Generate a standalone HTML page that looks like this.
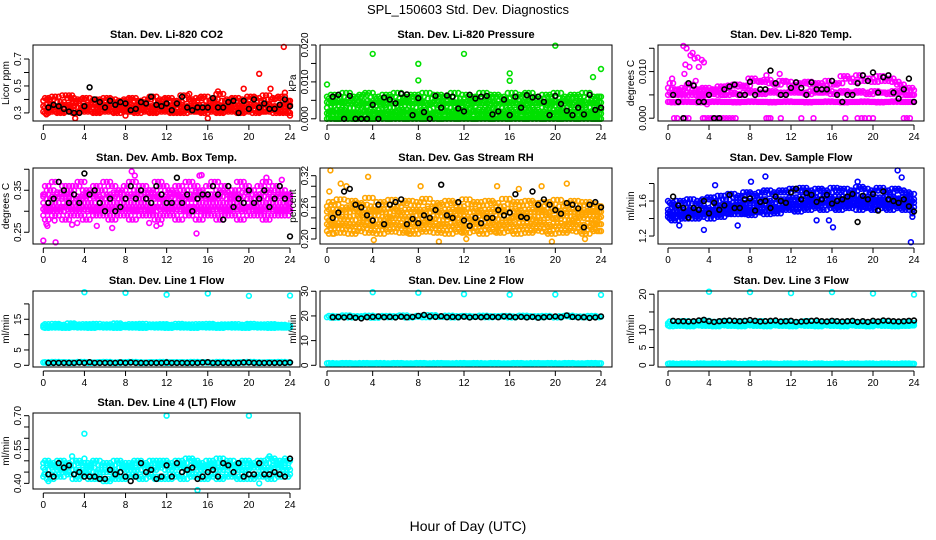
<!DOCTYPE html>
<html><head><meta charset="utf-8"><style>
html,body{margin:0;padding:0;background:#fff}
svg{display:block;font-family:"Liberation Sans",Arial,sans-serif}
</style></head><body>
<svg id="fig" width="936" height="540" viewBox="0 0 936 540">
<text x="468" y="14" text-anchor="middle" font-size="13">SPL_150603  Std. Dev. Diagnostics</text>
<text x="468" y="531" text-anchor="middle" font-size="14">Hour of Day (UTC)</text>
</svg>
<script>
// ---- data ----
const co2Lo=[0.31,0.30,0.32,0.31,0.30,0.31,0.32,0.30,0.31,0.32,0.31,0.30,0.31,0.32,0.31,0.30,0.32,0.31,0.31,0.30,0.32,0.31,0.30,0.31,0.32,0.31,0.30,0.31,0.30,0.32,0.31,0.31,0.30,0.32,0.31,0.30,0.31,0.32,0.31,0.30,0.31,0.32,0.30,0.31,0.31,0.32,0.30,0.31,0.30];
const co2Mid=[0.35,0.34,0.36,0.35,0.34,0.36,0.35,0.37,0.34,0.35,0.36,0.34,0.35,0.36,0.35,0.34,0.35,0.36,0.35,0.34,0.36,0.35,0.34,0.35,0.36,0.35,0.34,0.36,0.35,0.34,0.35,0.36,0.34,0.35,0.36,0.35,0.34,0.36,0.35,0.34,0.35,0.36,0.35,0.34,0.36,0.35,0.34,0.35,0.36];
const co2Hi=[0.39,0.41,0.40,0.42,0.38,0.43,0.41,0.39,0.40,0.41,0.38,0.40,0.39,0.41,0.40,0.38,0.39,0.40,0.41,0.39,0.38,0.40,0.42,0.39,0.40,0.41,0.39,0.38,0.43,0.40,0.39,0.41,0.42,0.39,0.40,0.44,0.39,0.40,0.41,0.39,0.40,0.42,0.41,0.39,0.43,0.40,0.41,0.42,0.39];
const co2OutH=[3.1,16,8,21,23.4,19.5,22.1,14.2,23.5,2.8,0.3,24,17];
const co2OutV=[0.26,0.26,0.28,0.59,0.79,0.48,0.48,0.44,0.45,0.43,0.29,0.28,0.46];
const co2Black=[0.34,0.36,0.35,0.33,0.31,0.30,0.30,0.35,0.49,0.40,0.38,0.34,0.39,0.36,0.38,0.37,0.32,0.33,0.38,0.37,0.42,0.36,0.35,0.37,0.32,0.37,0.42,0.34,0.32,0.34,0.34,0.34,0.41,0.34,0.34,0.38,0.39,0.30,0.39,0.33,0.40,0.34,0.37,0.33,0.33,0.36,0.40,0.35];

const prsLo=[0.0000,0.0001,0.0000,0.0000,0.0001,0.0000,0.0000,0.0001,0.0000,0.0000,0.0001,0.0000,0.0000,0.0001,0.0000,0.0000,0.0001,0.0000,0.0000,0.0001,0.0000,0.0000,0.0001,0.0000,0.0000,0.0001,0.0000,0.0000,0.0001,0.0000,0.0000,0.0001,0.0000,0.0000,0.0001,0.0000,0.0000,0.0001,0.0000,0.0000,0.0001,0.0000,0.0000,0.0001,0.0000,0.0000,0.0001,0.0000,0.0000];
const prsQ1=[0.0015,0.0012,0.0018,0.0014,0.0016,0.0010,0.0015,0.0018,0.0012,0.0014,0.0017,0.0015,0.0011,0.0016,0.0014,0.0018,0.0012,0.0015,0.0013,0.0010,0.0016,0.0018,0.0012,0.0015,0.0014,0.0016,0.0018,0.0012,0.0013,0.0016,0.0018,0.0011,0.0015,0.0013,0.0012,0.0018,0.0016,0.0014,0.0012,0.0015,0.0017,0.0013,0.0016,0.0011,0.0014,0.0018,0.0015,0.0012,0.0014];
const prsMid=[0.0030,0.0020,0.0035,0.0025,0.0030,0.0015,0.0030,0.0035,0.0020,0.0025,0.0035,0.0030,0.0020,0.0030,0.0025,0.0035,0.0020,0.0030,0.0025,0.0015,0.0030,0.0035,0.0020,0.0030,0.0025,0.0030,0.0035,0.0020,0.0025,0.0030,0.0035,0.0020,0.0030,0.0025,0.0020,0.0035,0.0030,0.0025,0.0020,0.0030,0.0035,0.0025,0.0030,0.0020,0.0025,0.0035,0.0030,0.0020,0.0025];
const prsQ3=[0.0045,0.0042,0.0048,0.0044,0.0046,0.0040,0.0045,0.0048,0.0042,0.0044,0.0047,0.0045,0.0041,0.0046,0.0044,0.0048,0.0042,0.0045,0.0043,0.0040,0.0046,0.0048,0.0042,0.0045,0.0044,0.0046,0.0048,0.0042,0.0043,0.0046,0.0048,0.0041,0.0045,0.0043,0.0042,0.0048,0.0046,0.0044,0.0042,0.0045,0.0047,0.0043,0.0046,0.0041,0.0044,0.0048,0.0045,0.0042,0.0044];
const prsHi=[0.0060,0.0055,0.0065,0.0060,0.0070,0.0055,0.0060,0.0065,0.0070,0.0060,0.0055,0.0065,0.0060,0.0070,0.0055,0.0060,0.0065,0.0060,0.0070,0.0055,0.0065,0.0060,0.0060,0.0070,0.0055,0.0065,0.0060,0.0055,0.0070,0.0060,0.0065,0.0060,0.0055,0.0070,0.0060,0.0065,0.0070,0.0060,0.0055,0.0065,0.0060,0.0070,0.0055,0.0060,0.0065,0.0060,0.0070,0.0055,0.0060];
const prsOutH=[0,4,8,8,12,16,16,20,23.3,24];
const prsOutV=[0.0093,0.0176,0.0149,0.0104,0.0176,0.0123,0.0103,0.0198,0.0113,0.0135];
const prsBlack=[0.0060,0.0065,0.0000,0.0062,0.0000,0.0000,0.0000,0.0038,0.0000,0.0058,0.0052,0.0042,0.0068,0.0066,0.0010,0.0056,0.0018,0.0000,0.0062,0.0030,0.0063,0.0060,0.0028,0.0020,0.0065,0.0055,0.0060,0.0062,0.0012,0.0020,0.0052,0.0010,0.0060,0.0030,0.0064,0.0058,0.0060,0.0046,0.0010,0.0062,0.0040,0.0022,0.0010,0.0030,0.0012,0.0065,0.0024,0.0030];

const tmpLo=[0.0035,0.0035,0.0034,0.0035,0.0036,0.0035,0.0035,0.0034,0.0035,0.0035,0.0036,0.0035,0.0035,0.0035,0.0034,0.0035,0.0035,0.0036,0.0035,0.0035,0.0035,0.0034,0.0035,0.0035,0.0036,0.0035,0.0035,0.0035,0.0034,0.0035,0.0035,0.0035,0.0036,0.0035,0.0035,0.0034,0.0035,0.0035,0.0035,0.0036,0.0035,0.0035,0.0034,0.0035,0.0035,0.0036,0.0035,0.0035,0.0035];
const tmpMid=[0.0050,0.0055,0.0050,0.0052,0.0050,0.0055,0.0050,0.0048,0.0050,0.0052,0.0055,0.0050,0.0050,0.0055,0.0052,0.0050,0.0055,0.0058,0.0055,0.0052,0.0055,0.0058,0.0055,0.0052,0.0055,0.0058,0.0055,0.0055,0.0052,0.0058,0.0055,0.0055,0.0058,0.0052,0.0055,0.0058,0.0055,0.0055,0.0058,0.0055,0.0052,0.0058,0.0055,0.0055,0.0052,0.0058,0.0055,0.0050,0.0050];
const tmpHi=[0.0065,0.0075,0.0062,0.0060,0.0065,0.0072,0.0060,0.0062,0.0065,0.0060,0.0062,0.0068,0.0065,0.0070,0.0072,0.0068,0.0070,0.0085,0.0080,0.0078,0.0082,0.0075,0.0072,0.0080,0.0078,0.0070,0.0072,0.0075,0.0078,0.0072,0.0075,0.0070,0.0080,0.0072,0.0075,0.0090,0.0085,0.0078,0.0092,0.0080,0.0085,0.0078,0.0090,0.0080,0.0085,0.0078,0.0072,0.0065,0.0060];
const tmpOutH=[1.5,1.8,1.7,2.2,2.4,2.6,2.9,3.0,3.3,3.5,2.1,1.6,2.7,0.4,3.8,10.9,9.6];
const tmpOutV=[0.0155,0.0150,0.0115,0.0135,0.0140,0.0128,0.0130,0.0110,0.0125,0.0120,0.0110,0.0095,0.0080,0.0085,0.0030,0.0095,0.0092];
const tmpZeroH=[0.6,0.9,1.5,1.7,2.0,3.4,3.6,3.9,4.2,4.5,4.8,5.1,5.4,5.7,6.0,6.3,6.6,9.6,9.8,10.0,11.0,13.0,14.2,17.3,18.5,18.9,19.2,19.6,20.0,23.0,23.3,23.6];
const tmpBlack=[0.0050,0.0035,0.0000,0.0075,0.0070,0.0035,0.0035,0.0050,0.0000,0.0000,0.0062,0.0068,0.0072,0.0050,0.0050,0.0078,0.0050,0.0062,0.0062,0.0102,0.0075,0.0050,0.0050,0.0065,0.0077,0.0065,0.0050,0.0077,0.0062,0.0062,0.0062,0.0080,0.0050,0.0035,0.0050,0.0050,0.0075,0.0092,0.0080,0.0098,0.0055,0.0088,0.0092,0.0055,0.0042,0.0062,0.0085,0.0035];

const ambLo=[0.29,0.28,0.30,0.29,0.30,0.28,0.29,0.30,0.29,0.28,0.30,0.29,0.30,0.29,0.28,0.29,0.30,0.29,0.28,0.30,0.29,0.30,0.29,0.28,0.29,0.30,0.29,0.28,0.30,0.29,0.30,0.28,0.29,0.30,0.29,0.28,0.29,0.30,0.29,0.28,0.30,0.29,0.30,0.29,0.28,0.29,0.30,0.29,0.30];
const ambQ1=[0.305,0.300,0.310,0.305,0.300,0.310,0.305,0.300,0.305,0.310,0.305,0.300,0.310,0.305,0.300,0.305,0.310,0.305,0.300,0.305,0.310,0.305,0.300,0.310,0.305,0.300,0.305,0.310,0.305,0.300,0.310,0.305,0.300,0.305,0.310,0.305,0.300,0.305,0.310,0.305,0.300,0.310,0.305,0.300,0.305,0.310,0.305,0.300,0.305];
const ambMid=[0.32,0.31,0.33,0.32,0.31,0.33,0.32,0.31,0.32,0.33,0.32,0.31,0.33,0.32,0.31,0.32,0.33,0.32,0.31,0.32,0.33,0.32,0.31,0.33,0.32,0.31,0.32,0.33,0.32,0.31,0.33,0.32,0.31,0.32,0.33,0.32,0.31,0.32,0.33,0.32,0.31,0.33,0.32,0.31,0.32,0.33,0.32,0.31,0.32];
const ambQ3=[0.335,0.340,0.330,0.335,0.345,0.335,0.340,0.330,0.335,0.340,0.345,0.335,0.330,0.340,0.335,0.345,0.330,0.340,0.335,0.340,0.330,0.345,0.335,0.340,0.330,0.335,0.345,0.340,0.335,0.330,0.340,0.345,0.335,0.330,0.340,0.335,0.345,0.330,0.340,0.335,0.345,0.330,0.340,0.335,0.345,0.330,0.335,0.340,0.335];
const ambHi=[0.34,0.36,0.35,0.37,0.34,0.36,0.35,0.36,0.37,0.35,0.34,0.36,0.35,0.37,0.36,0.34,0.35,0.36,0.37,0.35,0.36,0.34,0.35,0.37,0.36,0.35,0.34,0.36,0.35,0.37,0.36,0.35,0.34,0.36,0.37,0.35,0.36,0.34,0.35,0.37,0.36,0.35,0.34,0.36,0.37,0.35,0.36,0.35,0.34];
const ambOutH=[0,1.2,0.3,0.4,1.1,2.8,3.3,8.6,8.9,5.2,6.7,10.3,11.0,11.4,14.9,15.2,15.4,21.7,23.2];
const ambOutV=[0.230,0.226,0.270,0.265,0.278,0.268,0.272,0.395,0.385,0.265,0.260,0.272,0.265,0.270,0.247,0.385,0.386,0.380,0.375];
const ambBlack=[0.32,0.33,0.37,0.35,0.32,0.34,0.32,0.39,0.34,0.35,0.32,0.30,0.33,0.30,0.31,0.33,0.36,0.33,0.35,0.33,0.32,0.36,0.34,0.32,0.32,0.38,0.32,0.34,0.30,0.33,0.34,0.34,0.36,0.34,0.28,0.36,0.31,0.33,0.32,0.35,0.32,0.33,0.35,0.31,0.33,0.36,0.33,0.24];

const rhLo=[0.215,0.210,0.220,0.212,0.218,0.210,0.215,0.220,0.212,0.216,0.210,0.218,0.214,0.220,0.212,0.215,0.210,0.218,0.214,0.220,0.212,0.216,0.210,0.218,0.214,0.212,0.220,0.215,0.210,0.218,0.214,0.212,0.220,0.215,0.210,0.218,0.212,0.216,0.220,0.214,0.210,0.218,0.212,0.216,0.220,0.214,0.210,0.218,0.215];
const rhQ1=[0.228,0.225,0.230,0.226,0.229,0.224,0.228,0.231,0.226,0.228,0.224,0.230,0.227,0.231,0.225,0.228,0.224,0.230,0.227,0.231,0.225,0.228,0.224,0.230,0.227,0.225,0.231,0.228,0.224,0.230,0.227,0.225,0.231,0.228,0.224,0.230,0.225,0.228,0.231,0.227,0.224,0.230,0.225,0.228,0.231,0.227,0.224,0.230,0.228];
const rhMid=[0.240,0.235,0.245,0.238,0.242,0.236,0.244,0.240,0.238,0.245,0.236,0.242,0.240,0.244,0.238,0.242,0.236,0.245,0.240,0.238,0.244,0.236,0.242,0.240,0.245,0.238,0.242,0.236,0.244,0.240,0.238,0.245,0.236,0.242,0.240,0.244,0.238,0.242,0.236,0.245,0.240,0.238,0.244,0.236,0.242,0.240,0.245,0.238,0.242];
const rhQ3=[0.252,0.256,0.250,0.255,0.251,0.257,0.253,0.250,0.256,0.252,0.255,0.251,0.257,0.253,0.250,0.256,0.252,0.255,0.251,0.257,0.253,0.250,0.256,0.252,0.255,0.251,0.257,0.253,0.250,0.256,0.252,0.255,0.251,0.257,0.253,0.250,0.256,0.252,0.255,0.251,0.257,0.253,0.250,0.256,0.252,0.255,0.251,0.253,0.252];
const rhHi=[0.262,0.270,0.265,0.275,0.260,0.272,0.268,0.265,0.278,0.262,0.270,0.266,0.274,0.262,0.268,0.272,0.264,0.270,0.276,0.262,0.268,0.265,0.272,0.268,0.262,0.275,0.266,0.270,0.264,0.272,0.268,0.262,0.276,0.266,0.270,0.264,0.272,0.268,0.262,0.270,0.266,0.274,0.262,0.268,0.272,0.264,0.270,0.266,0.262];
const rhOutH=[0.3,0.2,1.2,1.7,3.6,4.1,0.6,8.2,9.8,12.2,14.9,16.8,18.8,21.0,22.6,19.7,7.2];
const rhOutV=[0.330,0.290,0.305,0.300,0.318,0.198,0.210,0.300,0.195,0.200,0.300,0.295,0.300,0.305,0.200,0.195,0.210];
const rhBlack=[0.240,0.250,0.290,0.295,0.265,0.260,0.245,0.235,0.265,0.228,0.265,0.270,0.275,0.228,0.238,0.230,0.245,0.240,0.255,0.303,0.245,0.240,0.270,0.235,0.225,0.240,0.230,0.240,0.240,0.255,0.245,0.250,0.285,0.242,0.240,0.290,0.265,0.275,0.265,0.255,0.248,0.268,0.265,0.258,0.222,0.265,0.270,0.260];

const flwLo=[1.42,1.40,1.38,1.42,1.40,1.44,1.40,1.42,1.45,1.40,1.44,1.42,1.46,1.45,1.48,1.45,1.46,1.44,1.47,1.48,1.45,1.48,1.46,1.50,1.52,1.50,1.48,1.52,1.50,1.54,1.52,1.50,1.55,1.52,1.50,1.54,1.52,1.55,1.50,1.53,1.52,1.50,1.55,1.52,1.50,1.54,1.52,1.50,1.53];
const flwQ1=[1.46,1.44,1.45,1.47,1.44,1.48,1.45,1.47,1.49,1.45,1.49,1.47,1.51,1.50,1.53,1.50,1.52,1.50,1.52,1.55,1.52,1.53,1.52,1.55,1.57,1.56,1.55,1.58,1.56,1.59,1.57,1.58,1.60,1.57,1.56,1.59,1.58,1.60,1.56,1.59,1.58,1.56,1.60,1.57,1.56,1.59,1.57,1.56,1.58];
const flwMid=[1.50,1.48,1.52,1.50,1.48,1.52,1.50,1.55,1.52,1.50,1.55,1.53,1.56,1.55,1.58,1.56,1.58,1.60,1.58,1.62,1.60,1.58,1.62,1.60,1.62,1.64,1.62,1.65,1.62,1.64,1.62,1.66,1.63,1.62,1.65,1.62,1.64,1.66,1.62,1.65,1.63,1.62,1.64,1.62,1.65,1.63,1.62,1.64,1.62];
const flwHi=[1.60,1.58,1.56,1.60,1.58,1.62,1.57,1.60,1.62,1.64,1.60,1.66,1.62,1.68,1.64,1.66,1.70,1.68,1.66,1.70,1.72,1.68,1.70,1.72,1.70,1.74,1.72,1.75,1.72,1.70,1.74,1.72,1.70,1.75,1.72,1.74,1.70,1.72,1.76,1.74,1.70,1.72,1.75,1.72,1.70,1.74,1.72,1.70,1.68];
const flwOutH=[1.1,3.5,6.8,8.1,16.1,22.4,23.7,22.8,14.5,15.7,18.5,4.6,9.5];
const flwOutV=[1.32,1.27,1.32,1.82,1.30,1.95,1.13,1.87,1.38,1.38,1.82,1.78,1.88];
const flwBlack=[1.65,1.55,1.52,1.41,1.52,1.50,1.60,1.46,1.58,1.50,1.55,1.67,1.52,1.52,1.62,1.63,1.49,1.59,1.60,1.52,1.65,1.60,1.58,1.70,1.74,1.62,1.69,1.67,1.59,1.62,1.67,1.57,1.60,1.62,1.65,1.68,1.36,1.66,1.62,1.68,1.49,1.71,1.62,1.60,1.58,1.62,1.54,1.48];

const l1Hi=[13.0,13.4,12.8,13.5,13.2,12.8,13.6,13.3,12.9,13.4,13.1,13.5,12.8,13.3,13.0,13.6,13.2,12.9,13.4,13.1,13.5,12.8,13.3,13.0,13.4,13.2,12.9,13.5,13.1,13.3,12.8,13.4,13.0,13.5,13.2,12.9,13.3,13.1,13.4,12.8,13.2,13.5,13.0,13.3,12.9,13.4,13.1,13.2,12.9];
const l1Hi2=[12.4,12.2,12.6,12.3,12.5,12.2,12.4,12.6,12.3,12.5,12.2,12.4,12.6,12.3,12.5,12.2,12.4,12.6,12.3,12.5,12.2,12.4,12.6,12.3,12.5,12.2,12.4,12.6,12.3,12.5,12.2,12.4,12.6,12.3,12.5,12.2,12.4,12.6,12.3,12.5,12.2,12.4,12.6,12.3,12.5,12.2,12.4,12.3,12.3];
const l1Low=[0.9,1.0,0.8,1.1,0.9,1.0,0.8,0.9,1.1,1.0,0.8,0.9,1.0,1.1,0.9,0.8,1.0,0.9,1.1,1.0,0.8,0.9,1.0,0.9,1.1,0.8,1.0,0.9,1.0,0.8,1.1,0.9,1.0,0.9,0.8,1.1,1.0,0.9,0.8,1.0,0.9,1.1,1.0,0.8,0.9,1.0,0.9,1.1,0.9];
const l1OutH=[4,8,12,16,20,24];
const l1OutV=[23.8,23.6,23.0,23.4,22.6,22.7];
const l1Black=[0.8,0.8,0.8,0.8,0.8,0.8,0.9,0.8,1.0,0.8,0.8,0.8,0.8,0.8,0.9,0.8,0.9,0.8,0.8,0.8,0.8,0.8,0.8,0.9,0.8,0.8,0.8,0.8,0.8,0.8,0.9,1.0,0.8,0.8,0.8,0.8,0.8,0.8,0.9,0.9,0.8,0.8,0.8,0.8,0.8,0.8,0.8,0.9];

const l2Hi=[19.5,20.0,19.3,19.8,20.2,19.4,19.9,19.6,20.1,19.3,19.8,20.0,19.5,19.9,20.2,19.4,19.7,20.0,19.5,20.3,19.8,19.6,20.1,19.4,19.9,20.0,19.6,19.8,20.1,19.5,19.9,19.7,20.0,19.4,19.8,20.1,19.6,19.9,19.5,20.0,19.7,19.4,19.9,20.1,19.6,19.8,19.5,20.0,19.7];
const l2Low=[0.8,0.9,0.7,0.8,0.9,0.8,0.7,0.9,0.8,0.8,0.9,0.7,0.8,0.9,0.8,0.7,0.8,0.9,0.8,0.7,0.9,0.8,0.8,0.7,0.9,0.8,0.8,0.9,0.7,0.8,0.9,0.8,0.7,0.8,0.9,0.8,0.7,0.9,0.8,0.8,0.9,0.7,0.8,0.9,0.8,0.7,0.8,0.9,0.8];
const l2OutH=[4,8,12,16,20,24];
const l2OutV=[29.6,29.4,28.8,28.6,28.7,28.5];
const l2Black=[19.5,19.6,19.4,19.7,19.3,19.0,19.5,19.6,19.8,19.5,19.6,19.4,19.7,19.5,19.6,20.0,20.4,19.8,19.6,19.9,19.5,19.6,19.5,19.7,19.4,19.6,19.5,19.7,19.6,19.5,19.8,19.7,19.5,19.6,19.4,19.6,19.3,19.5,19.6,19.8,19.5,20.2,19.6,19.4,19.5,19.2,19.4,19.8];

const l3Hi=[11.8,12.3,11.5,12.0,12.4,11.6,12.1,11.8,12.5,11.7,12.2,11.9,12.4,11.6,12.0,12.3,11.7,12.1,11.9,12.4,11.6,12.2,11.8,12.0,12.3,11.7,12.1,11.9,12.4,11.6,12.2,11.8,12.0,12.3,11.7,12.1,11.5,12.2,11.8,12.0,11.6,12.1,11.9,12.3,11.7,12.0,11.8,12.2,11.9];
const l3Hi2=[11.2,11.0,11.4,11.1,11.3,11.0,11.2,11.4,11.1,11.3,11.0,11.2,11.4,11.1,11.3,11.0,11.2,11.4,11.1,11.3,11.0,11.2,11.4,11.1,11.3,11.0,11.2,11.4,11.1,11.3,11.0,11.2,11.4,11.1,11.3,11.0,11.2,11.4,11.1,11.3,11.0,11.2,11.4,11.1,11.3,11.0,11.2,11.1,11.2];
const l3Low=[0.4,0.5,0.3,0.4,0.5,0.4,0.3,0.5,0.4,0.4,0.5,0.3,0.4,0.5,0.4,0.3,0.4,0.5,0.4,0.3,0.5,0.4,0.4,0.3,0.5,0.4,0.4,0.5,0.3,0.4,0.5,0.4,0.3,0.4,0.5,0.4,0.3,0.5,0.4,0.4,0.5,0.3,0.4,0.5,0.4,0.3,0.4,0.5,0.4];
const l3OutH=[4,8,12,16,20,24];
const l3OutV=[20.7,20.6,20.3,20.6,20.2,19.9];
const l3Black=[12.5,12.4,12.4,12.3,12.4,12.6,12.8,12.4,12.2,12.4,12.5,12.6,12.5,12.4,12.5,12.7,12.5,12.3,12.4,12.5,12.6,12.3,12.4,12.5,12.2,12.3,12.4,12.5,12.6,12.4,12.3,12.5,12.4,12.3,12.4,12.5,12.2,12.4,12.2,12.5,12.3,12.6,12.5,12.4,12.3,12.4,12.5,12.6];

const l4Lo=[0.43,0.44,0.42,0.44,0.43,0.45,0.44,0.42,0.43,0.44,0.42,0.43,0.42,0.41,0.42,0.43,0.42,0.43,0.44,0.43,0.42,0.44,0.43,0.42,0.43,0.42,0.44,0.43,0.42,0.44,0.43,0.44,0.42,0.43,0.44,0.42,0.43,0.44,0.43,0.42,0.44,0.42,0.43,0.44,0.43,0.42,0.44,0.43,0.44];
const l4Mid=[0.47,0.46,0.48,0.47,0.46,0.47,0.48,0.46,0.45,0.46,0.47,0.45,0.46,0.45,0.46,0.45,0.47,0.46,0.47,0.46,0.48,0.47,0.46,0.47,0.48,0.46,0.47,0.48,0.47,0.46,0.48,0.47,0.46,0.48,0.47,0.46,0.47,0.48,0.46,0.47,0.46,0.47,0.48,0.47,0.46,0.47,0.48,0.47,0.46];
const l4Hi=[0.49,0.50,0.49,0.48,0.50,0.49,0.48,0.50,0.49,0.48,0.49,0.50,0.48,0.49,0.48,0.50,0.49,0.48,0.49,0.50,0.49,0.48,0.50,0.49,0.50,0.49,0.48,0.50,0.49,0.51,0.50,0.49,0.48,0.50,0.49,0.51,0.49,0.50,0.48,0.49,0.50,0.49,0.48,0.50,0.49,0.51,0.50,0.49,0.50];
const l4OutH=[4,12,20,15,0.5,2.8,4,22,23.5,21,0.1];
const l4OutV=[0.62,0.70,0.70,0.37,0.41,0.52,0.51,0.52,0.51,0.40,0.44];
const l4Black=[0.44,0.43,0.49,0.47,0.48,0.44,0.45,0.43,0.43,0.43,0.42,0.42,0.46,0.44,0.45,0.43,0.41,0.43,0.49,0.45,0.46,0.42,0.43,0.48,0.43,0.49,0.45,0.46,0.47,0.42,0.43,0.45,0.46,0.43,0.49,0.48,0.45,0.49,0.43,0.44,0.44,0.49,0.44,0.44,0.45,0.44,0.43,0.51];

const xTicks=[0,4,8,12,16,20,24];

// ---- layout (style/positions) ----
const COLS=[{l:33,r:300,x0:43.3,x1:290},{l:320,r:612,x0:327,x1:601},{l:658,r:924,x0:668,x1:914}];
const ROWS=[{t:45,b:121},{t:168,b:244},{t:291,b:367},{t:413,b:489}];
const NS="http://www.w3.org/2000/svg";
const svg=document.getElementById('fig');
function el(tag,attrs,parent){const e=document.createElementNS(NS,tag);for(const k in attrs)e.setAttribute(k,attrs[k]);(parent||svg).appendChild(e);return e;}

function panel(cfg){
  const C=COLS[cfg.col],R=ROWS[cfg.row];
  const g=el('g',{});
  
  
  const sx=h=>C.x0+(h/24)*(C.x1-C.x0);
  const sy=v=>R.b-(v-cfg.ymin)/(cfg.ymax-cfg.ymin)*(R.b-R.t);
  const t=el('text',{x:(C.l+C.r)/2,y:R.t-7,'text-anchor':'middle','font-size':11,'font-weight':'bold'},g);
  t.textContent=cfg.title;
  
  
  const pts=el('g',{fill:'none','stroke-width':1.6},g);
  
  
  function dot(h,v,col){
    const c=el('circle',{cx:sx(h).toFixed(1),cy:sy(v).toFixed(1),r:2.4,stroke:col},pts);
    
    
  }
  cfg.ribbons.forEach(arr=>{const n=arr.length;arr.forEach((v,i)=>{
    dot(i*24/(n-1),v,cfg.color);
    if(i<n-1){dot(i*24/(n-1)+0.17,arr[(i+1)%n],cfg.color);dot(i*24/(n-1)+0.34,arr[(i+2)%n],cfg.color);}
  });});
  if(cfg.zeroH)cfg.zeroH.forEach(h=>dot(h,0,cfg.color));
  cfg.outH.forEach((h,i)=>dot(h,cfg.outV[i],cfg.color));
  const nb=cfg.black.length;
  cfg.black.forEach((v,i)=>dot(0.5+i*23.5/(nb-1),v,'#000'));
  const box=el('rect',{x:C.l,y:R.t,width:C.r-C.l,height:R.b-R.t,fill:'none',stroke:'#000','stroke-width':1},g);
  
  
  const ax=el('g',{stroke:'#000','stroke-width':1},g);
  
  
  el('line',{x1:sx(0),x2:sx(24),y1:R.b+4,y2:R.b+4},ax);
  xTicks.forEach(h=>{el('line',{x1:sx(h),x2:sx(h),y1:R.b+4,y2:R.b+9},ax);
    const tx=el('text',{x:sx(h),y:R.b+19,'text-anchor':'middle','font-size':10,stroke:'none'},ax);tx.textContent=h;});
  const ay=el('g',{stroke:'#000','stroke-width':1},g);
  
  
  const yt=cfg.yticks;
  el('line',{x1:C.l-4,x2:C.l-4,y1:sy(yt[0]),y2:sy(yt[yt.length-1])},ay);
  yt.forEach(v=>{const y=sy(v);el('line',{x1:C.l-9,x2:C.l-4,y1:y,y2:y},ay);
    if(cfg.ylabels.includes(v)){const tx=el('text',{x:C.l-12,y:y,'text-anchor':'middle','font-size':10,stroke:'none',transform:`rotate(-90 ${C.l-12} ${y})`},ay);tx.textContent=v.toFixed(cfg.dec);}});
  const yl=el('text',{x:C.l-24,y:(R.t+R.b)/2,'text-anchor':'middle','font-size':10,transform:`rotate(-90 ${C.l-24} ${(R.t+R.b)/2})`},g);
  yl.textContent=cfg.ylab;
  
  
}

panel({name:'panel-co2',title:'Stan. Dev. Li-820 CO2',col:0,row:0,ymin:0.24,ymax:0.804,yticks:[0.3,0.4,0.5,0.6,0.7],ylabels:[0.3,0.5,0.7],dec:1,ylab:'Licor ppm',color:'#ff0000',ribbons:[co2Lo,co2Mid,co2Hi],outH:co2OutH,outV:co2OutV,black:co2Black});
panel({name:'panel-pressure',title:'Stan. Dev. Li-820 Pressure',col:1,row:0,ymin:-0.0006,ymax:0.02,yticks:[0,0.005,0.01,0.015,0.02],ylabels:[0,0.01,0.02],dec:3,ylab:'kPa',color:'#00e000',ribbons:[prsLo,prsQ1,prsMid,prsQ3,prsHi],outH:prsOutH,outV:prsOutV,black:prsBlack});
panel({name:'panel-li820-temp',title:'Stan. Dev. Li-820 Temp.',col:2,row:0,ymin:-0.0006,ymax:0.0157,yticks:[0,0.005,0.01,0.015],ylabels:[0,0.01],dec:3,ylab:'degrees C',color:'#ff00ff',ribbons:[tmpLo,tmpMid,tmpHi],zeroH:tmpZeroH,outH:tmpOutH,outV:tmpOutV,black:tmpBlack});
panel({name:'panel-amb-box-temp',title:'Stan. Dev. Amb. Box Temp.',col:0,row:1,ymin:0.222,ymax:0.403,yticks:[0.25,0.30,0.35,0.40],ylabels:[0.25,0.35],dec:2,ylab:'degrees C',color:'#ff00ff',ribbons:[ambLo,ambQ1,ambMid,ambQ3,ambHi],outH:ambOutH,outV:ambOutV,black:ambBlack});
panel({name:'panel-gas-stream-rh',title:'Stan. Dev. Gas Stream RH',col:1,row:1,ymin:0.1905,ymax:0.3346,yticks:[0.20,0.22,0.24,0.26,0.28,0.30,0.32],ylabels:[0.20,0.26,0.32],dec:2,ylab:'percent',color:'#ffa500',ribbons:[rhLo,rhQ1,rhMid,rhQ3,rhHi],outH:rhOutH,outV:rhOutV,black:rhBlack});
panel({name:'panel-sample-flow',title:'Stan. Dev. Sample Flow',col:2,row:1,ymin:1.109,ymax:1.977,yticks:[1.2,1.4,1.6,1.8],ylabels:[1.2,1.6],dec:1,ylab:'ml/min',color:'#0000ff',ribbons:[flwLo,flwQ1,flwMid,flwHi],outH:flwOutH,outV:flwOutV,black:flwBlack});
panel({name:'panel-line1-flow',title:'Stan. Dev. Line 1 Flow',col:0,row:2,ymin:-0.55,ymax:24.2,yticks:[0,5,10,15,20],ylabels:[0,5,15],dec:0,ylab:'ml/min',color:'#00ffff',ribbons:[l1Hi,l1Hi2,l1Low],outH:l1OutH,outV:l1OutV,black:l1Black});
panel({name:'panel-line2-flow',title:'Stan. Dev. Line 2 Flow',col:1,row:2,ymin:-0.69,ymax:30.1,yticks:[0,10,20,30],ylabels:[0,10,20,30],dec:0,ylab:'ml/min',color:'#00ffff',ribbons:[l2Hi,l2Low],outH:l2OutH,outV:l2OutV,black:l2Black});
panel({name:'panel-line3-flow',title:'Stan. Dev. Line 3 Flow',col:2,row:2,ymin:-0.5,ymax:20.9,yticks:[0,5,10,15,20],ylabels:[0,5,10,20],dec:0,ylab:'ml/min',color:'#00ffff',ribbons:[l3Hi,l3Hi2,l3Low],outH:l3OutH,outV:l3OutV,black:l3Black});
panel({name:'panel-line4-flow',title:'Stan. Dev. Line 4 (LT) Flow',col:0,row:3,ymin:0.375,ymax:0.712,yticks:[0.40,0.45,0.50,0.55,0.60,0.65,0.70],ylabels:[0.40,0.55,0.70],dec:2,ylab:'ml/min',color:'#00ffff',ribbons:[l4Lo,l4Mid,l4Hi],outH:l4OutH,outV:l4OutV,black:l4Black});
</script>
</body></html>
